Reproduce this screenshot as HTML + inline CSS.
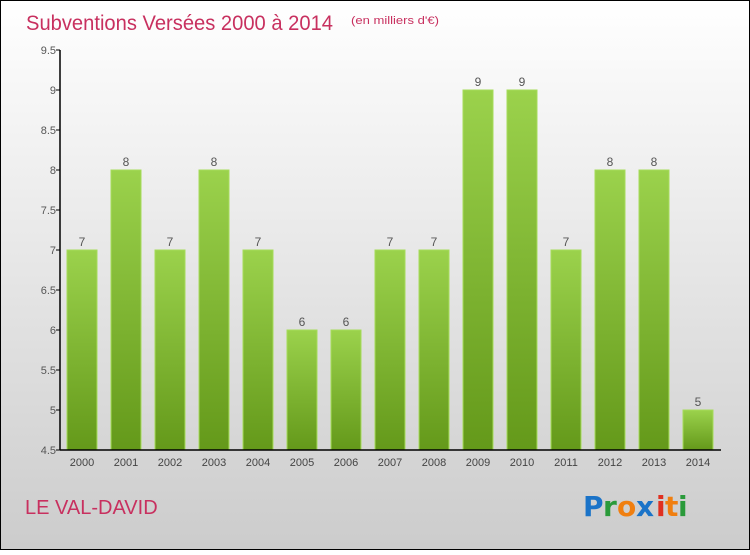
<!DOCTYPE html>
<html><head><meta charset="utf-8"><style>
html,body{margin:0;padding:0}
body{width:750px;height:550px;overflow:hidden;font-family:"Liberation Sans",sans-serif}
</style></head><body>
<svg width="750" height="550" xmlns="http://www.w3.org/2000/svg">
<defs>
<linearGradient id="bg" x1="0" y1="0" x2="0" y2="1"><stop offset="0" stop-color="#ffffff"/><stop offset="1" stop-color="#cccccc"/></linearGradient>
<linearGradient id="bar" x1="0" y1="0" x2="0" y2="1"><stop offset="0" stop-color="#9bd24c"/><stop offset="1" stop-color="#64991a"/></linearGradient>
</defs>
<rect x="0.5" y="0.5" width="749" height="549" fill="url(#bg)" stroke="#000"/>
<text x="26" y="30" font-size="21" fill="#c8305f" textLength="307" lengthAdjust="spacingAndGlyphs">Subventions Versées 2000 à 2014</text>
<text x="351" y="24" font-size="11" fill="#c8305f" textLength="88" lengthAdjust="spacingAndGlyphs">(en milliers d'€)</text>
<g id="plot"></g>
<text x="25" y="514" font-size="20" fill="#c8305f">LE VAL-DAVID</text>
<g font-size="28" font-family="'DejaVu Sans',sans-serif" font-weight="bold">
<text x="583" y="516" fill="#1a73c8">P</text><text x="603" y="516" fill="#2a9a3a">r</text><text x="617" y="516" fill="#f07f10">o</text><text x="636" y="516" fill="#1a73c8">x</text><text x="656" y="516" fill="#e03020">i</text><text x="665" y="516" fill="#f07f10">t</text><text x="678" y="516" fill="#2a9a3a">i</text>
</g>
</svg>
<script>
const years=["2000","2001","2002","2003","2004","2005","2006","2007","2008","2009","2010","2011","2012","2013","2014"];
const values=[7,8,7,8,7,6,6,7,7,9,9,7,8,8,5];
const yTicks=[4.5,5,5.5,6,6.5,7,7.5,8,8.5,9,9.5];
const NS="http://www.w3.org/2000/svg";
const g=document.getElementById('plot');
const y=v=>450-(v-4.5)*80;
const x=i=>82+i*44;
function mk(t,a){const e=document.createElementNS(NS,t);for(const k in a)e.setAttribute(k,a[k]);g.appendChild(e);return e;}
values.forEach((v,i)=>{
  const r=mk('rect',{x:x(i)-15,y:y(v),width:30,height:450-y(v),fill:'url(#bar)',stroke:'#a6dc5a','stroke-width':1});
  
  
  const t=mk('text',{x:x(i),y:y(v)-4,'text-anchor':'middle','font-size':12,fill:'#555'});
  t.textContent=v;
  
  
  const xl=mk('text',{x:x(i),y:466,'text-anchor':'middle','font-size':11,fill:'#444'});
  xl.textContent=years[i];
  
  
});
yTicks.forEach(v=>{
  const l=mk('line',{x1:56,x2:60,y1:y(v),y2:y(v),stroke:'#000'});
  
  
  const t=mk('text',{x:56,y:y(v)+4,'text-anchor':'end','font-size':11,fill:'#555'});
  t.textContent=v;
  
  
});
const ya=mk('line',{x1:60,x2:60,y1:50,y2:450,stroke:'#000','stroke-width':1.5});


const xa=mk('line',{x1:60,x2:721,y1:450,y2:450,stroke:'#000','stroke-width':1.5});


</script>
</body></html>
